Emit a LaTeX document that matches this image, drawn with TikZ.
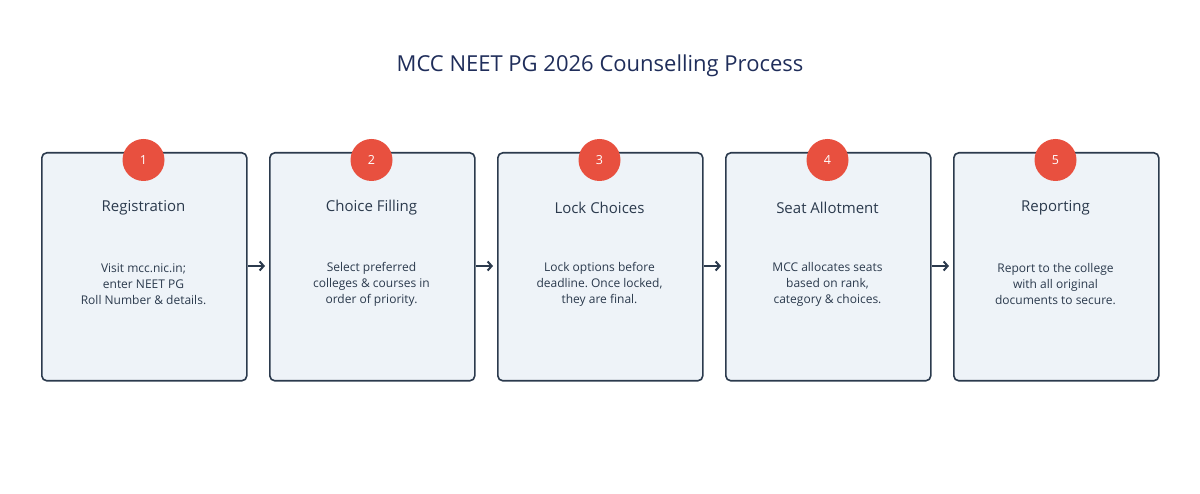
\documentclass[tikz,border=0pt]{standalone}
\usepackage{fontspec}
\setmainfont{Open Sans}
\usetikzlibrary{arrows.meta}
\definecolor{boxfill}{HTML}{EEF3F8}
\definecolor{boxline}{HTML}{2B3A4D}
\definecolor{stepred}{HTML}{E8503F}
\definecolor{titlecol}{HTML}{1F2D5A}
\frenchspacing
\begin{document}
\begin{tikzpicture}[x=1pt,y=-1pt]
\tikzstyle{stepbox}=[draw=boxline,fill=boxfill,line width=1.6pt,rounded corners=5pt,minimum width=205pt,minimum height=228pt,anchor=north west]
\tikzstyle{badge}=[circle,fill=stepred,minimum size=42pt,inner sep=0pt,text=white,font=\fontsize{12.5}{14}\selectfont]
\tikzstyle{head}=[text=boxline,font=\fontsize{15}{18}\selectfont]
\tikzstyle{body}=[text=boxline,align=center,font=\fontsize{12}{16}\selectfont]
\tikzstyle{link}=[draw=boxline,line width=2pt,-{Straight Barb[length=4pt,width=9pt,line width=2pt]}]
\useasboundingbox (0,0) rectangle (1200,494);
\node[text=titlecol,font=\fontsize{22}{26}\selectfont] (title) at (600,66) {MCC NEET PG 2026 Counselling Process};
% steps
\node[stepbox] (b1) at (41,152) {};
\node[stepbox] (b2) at (269,152) {};
\node[stepbox] (b3) at (497,152) {};
\node[stepbox] (b4) at (725,152) {};
\node[stepbox] (b5) at (953,152) {};
\node[badge] (c1) at (143.5,160) {1};
\node[badge] (c2) at (371.5,160) {2};
\node[badge] (c3) at (599.5,160) {3};
\node[badge] (c4) at (827.5,160) {4};
\node[badge] (c5) at (1055.5,160) {5};
\node[head] (h1) at (143.5,208) {Registration};
\node[head] (h2) at (371.5,208) {Choice Filling};
\node[head] (h3) at (599.5,208) {Lock Choices};
\node[head] (h4) at (827.5,208) {Seat Allotment};
\node[head] (h5) at (1055.5,208) {Reporting};
\node[body] (t1) at (143.5,284) {Visit mcc.nic.in;\\enter NEET PG\\Roll Number \& details.};
\node[body] (t2) at (371.5,284) {Select preferred\\colleges \& courses in\\order of priority.};
\node[body] (t3) at (599.5,284) {Lock options before\\deadline. Once locked,\\they are final.};
\node[body] (t4) at (827.5,284) {MCC allocates seats\\based on rank,\\category \& choices.};
\node[body] (t5) at (1055.5,284) {Report to the college\\with all original\\documents to secure.};
% arrows
\coordinate (a1) at (248,266); \coordinate (e1) at (265,266);
\coordinate (a2) at (476,266); \coordinate (e2) at (493,266);
\coordinate (a3) at (704,266); \coordinate (e3) at (721,266);
\coordinate (a4) at (932,266); \coordinate (e4) at (949,266);
\draw[link] (a1) -- (e1);
\draw[link] (a2) -- (e2);
\draw[link] (a3) -- (e3);
\draw[link] (a4) -- (e4);
\end{tikzpicture}
\end{document}
